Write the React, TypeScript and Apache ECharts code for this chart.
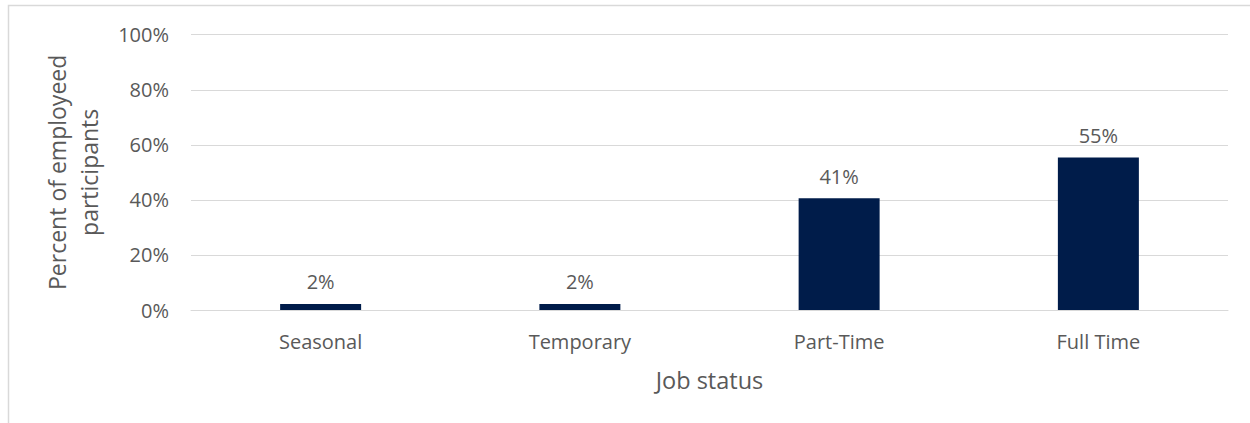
import React, { useEffect, useRef } from "react";
import * as echarts from "echarts";

const categories = ["Seasonal", "Temporary", "Part-Time", "Full Time"];
const values = [2.2, 2.2, 40.6, 55.4];
const yTicks = [0, 20, 40, 60, 80, 100];

const FONT = "'Open Sans', 'Noto Sans', sans-serif";
const TEXT = "#595959";
const GRID = "#d9d9d9";

export default function App() {
  const ref = useRef<HTMLDivElement>(null);
  useEffect(() => {
    if (!ref.current) return;
    const chart = echarts.init(ref.current, undefined, { renderer: "svg" });
    chart.setOption({
      animation: false,
      textStyle: { fontFamily: FONT },
      graphic: [
        {
          type: "rect",
          shape: { x: 8.5, y: 5.5, width: 1400, height: 600 },
          style: { fill: "none", stroke: GRID, lineWidth: 1.5 },
          silent: true,
        },
      ],
      grid: { left: 191, right: 22, top: 34.7, bottom: 113, containLabel: false },
      xAxis: {
        type: "category",
        data: categories,
        axisLine: { show: true, lineStyle: { color: GRID, width: 1 } },
        axisTick: { show: false },
        axisLabel: { color: TEXT, fontSize: 20, fontFamily: FONT, margin: 21 },
        name: "Job status",
        nameLocation: "middle",
        nameGap: 58,
        nameTextStyle: { color: TEXT, fontSize: 23.5, fontFamily: FONT },
      },
      yAxis: {
        type: "value",
        min: 0,
        max: 100,
        interval: 20,
        axisLine: { show: false },
        axisTick: { show: false },
        splitLine: { lineStyle: { color: GRID, width: 1 } },
        axisLabel: {
          color: TEXT,
          fontSize: 20,
          fontFamily: FONT,
          margin: 22,
          formatter: (v: number) => (yTicks.includes(v) ? `${v}%` : ""),
        },
        name: "Percent of employeed\nparticipants",
        nameLocation: "middle",
        nameGap: 86,
        nameRotate: 90,
        nameTextStyle: { color: TEXT, fontSize: 23, fontFamily: FONT, lineHeight: 32 },
      },
      series: [
        {
          type: "bar",
          data: values,
          barWidth: 81,
          itemStyle: { color: "#001c4a" },
          label: {
            show: true,
            position: "top",
            distance: 12,
            color: TEXT,
            fontSize: 20,
            fontFamily: FONT,
            formatter: (p: any) => `${Math.round(p.value)}%`,
          },
        },
      ],
    });
    return () => chart.dispose();
  }, []);
  return (
    <div
      ref={ref}
      style={{ position: "absolute", left: 0, top: 0, width: 1250, height: 423, background: "#fff" }}
    />
  );
}
